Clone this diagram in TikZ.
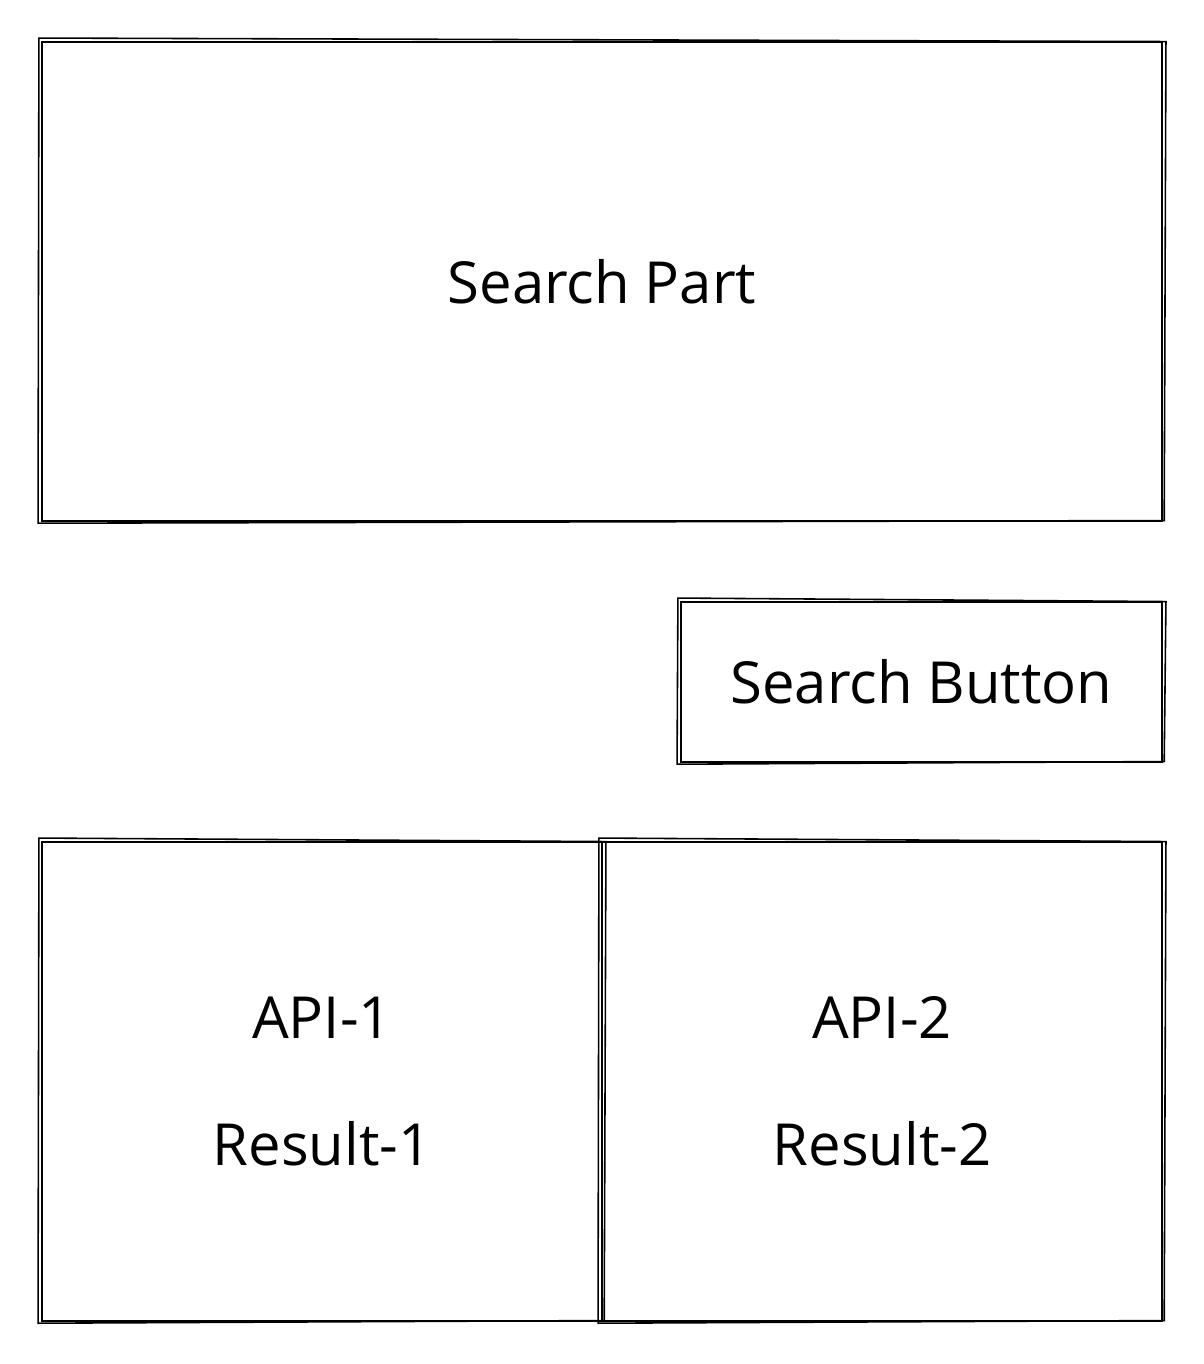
\documentclass[tikz,border=0pt]{standalone}
\usepackage{fontspec}
\setmainfont{Open Sans}
\newcommand\roughen[1]{%
  \draw[roughline] ([shift={(-1pt,1.5pt)}]#1.north west) -- ([shift={(1.5pt,-0.5pt)}]#1.north east)
    -- ([shift={(0.5pt,1pt)}]#1.south east) -- ([shift={(-1.5pt,-0.5pt)}]#1.south west) -- cycle;}
\tikzset{
  sketchbox/.style={draw, line width=1.5pt, inner sep=0pt, align=center,
    font=\fontsize{33}{72}\selectfont},
  roughline/.style={line width=0.9pt}
}
\begin{document}
\begin{tikzpicture}
    \useasboundingbox (0,0) rectangle (24.08,-27.28);
    % Search part
    \node[sketchbox, minimum width=22.4cm, minimum height=9.58cm] (searchpart) at (12.04,-5.63) {Search Part};
    \roughen{searchpart}
    % Button
    \node[sketchbox, minimum width=9.62cm, minimum height=3.2cm] (searchbutton) at (18.43,-13.64) {Search Button};
    \roughen{searchbutton}
    % Results
    \node[sketchbox, minimum width=11.2cm, minimum height=9.58cm] (apione) at (6.44,-21.63) {API-1\\Result-1};
    \roughen{apione}
    \node[sketchbox, minimum width=11.2cm, minimum height=9.58cm] (apitwo) at (17.64,-21.63) {API-2\\Result-2};
    \roughen{apitwo}
\end{tikzpicture}
\end{document}
